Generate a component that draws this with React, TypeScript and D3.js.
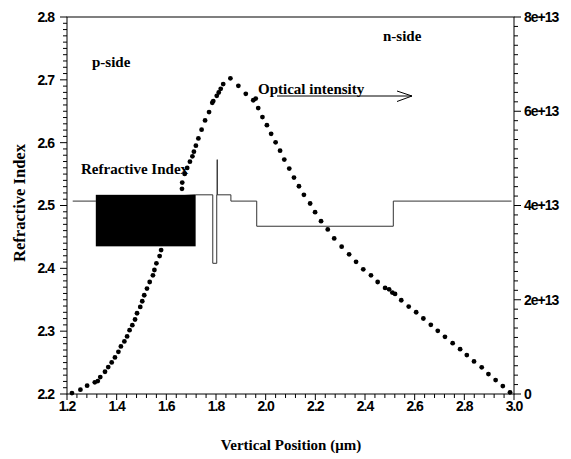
import React, { useEffect, useRef } from "react";
import * as d3 from "d3";

// optical intensity (right axis)
const dotPos = [
  1.22, 1.254, 1.281, 1.312, 1.324, 1.334, 1.353, 1.366, 1.38, 1.393, 1.407, 1.417, 1.431, 1.442,
  1.452, 1.463, 1.474, 1.482, 1.495, 1.503, 1.511, 1.522, 1.533, 1.546, 1.552, 1.56, 1.573, 1.579,
  1.663, 1.664, 1.674, 1.684, 1.695, 1.705, 1.711, 1.719, 1.729, 1.742, 1.756, 1.772, 1.785, 1.789,
  1.803, 1.811, 1.819, 1.829, 1.858, 1.89, 1.92, 1.95, 1.96, 1.97, 1.987, 2.005, 2.022, 2.04, 2.058,
  2.075, 2.095, 2.114, 2.134, 2.154, 2.179, 2.199, 2.223, 2.25, 2.276, 2.306, 2.336, 2.364, 2.393,
  2.424, 2.451, 2.481, 2.497, 2.51, 2.521, 2.546, 2.576, 2.606, 2.635, 2.665, 2.693, 2.722, 2.753,
  2.783, 2.81, 2.839, 2.87, 2.897, 2.926, 2.955, 2.984,
];
const dotIntensity = [
  0.02, 0.091, 0.176, 0.248, 0.275, 0.36, 0.472, 0.571, 0.671, 0.777, 0.895, 1.009, 1.115, 1.221,
  1.354, 1.46, 1.581, 1.714, 1.848, 1.968, 2.095, 2.237, 2.377, 2.518, 2.631, 2.772, 2.927, 3.054,
  4.353, 4.487, 4.671, 4.798, 4.931, 5.043, 5.143, 5.27, 5.424, 5.608, 5.805, 5.983, 6.18, 6.216,
  6.328, 6.398, 6.476, 6.576, 6.698, 6.54, 6.37, 6.233, 6.269, 6.068, 5.877, 5.704, 5.52, 5.34, 5.164,
  4.974, 4.783, 4.593, 4.409, 4.226, 4.042, 3.858, 3.668, 3.492, 3.302, 3.126, 2.963, 2.804, 2.646,
  2.518, 2.377, 2.25, 2.222, 2.152, 2.123, 1.989, 1.856, 1.735, 1.602, 1.467, 1.34, 1.213, 1.079,
  0.952, 0.825, 0.692, 0.565, 0.423, 0.296, 0.169, 0.036,
].map((v) => v * 1e13);

// refractive index profile (left axis), vertices of the step line
const profilePos = [
  1.223, 1.316, 1.718, 1.787, 1.787, 1.803, 1.803, 1.805, 1.805, 1.805, 1.86, 1.86, 1.964, 1.964,
  2.514, 2.514, 2.99,
];
const profileIndex = [
  2.507, 2.507, 2.517, 2.517, 2.408, 2.408, 2.517, 2.517, 2.573, 2.517, 2.517, 2.507, 2.507, 2.467,
  2.467, 2.507, 2.507,
];

// superlattice block (drawn solid)
const slPos = [1.316, 1.718];
const slIndex = [2.435, 2.517];

const xTicks = [1.2, 1.4, 1.6, 1.8, 2.0, 2.2, 2.4, 2.6, 2.8, 3.0];
const leftTicks = [2.2, 2.3, 2.4, 2.5, 2.6, 2.7, 2.8];
const rightTicks = [0, 2e13, 4e13, 6e13, 8e13];
const rightLabels = ["0", "2e+13", "4e+13", "6e+13", "8e+13"];

const W = 571;
const H = 459;
const serif = "'Liberation Serif', 'Times New Roman', serif";
const sans = "'Liberation Sans', Arial, sans-serif";

const App = () => {
  const svgRef = useRef(null);

  useEffect(() => {
    const svg = d3.select(svgRef.current);
    svg.selectAll("*").remove();

    const x = d3.scaleLinear().domain([1.2, 3.0]).range([67, 514]);
    const yL = d3.scaleLinear().domain([2.2, 2.8]).range([394, 17]);
    const yR = d3.scaleLinear().domain([0, 8e13]).range([394, 17]);

    // optical intensity dots
    svg
      .append("g")
      .selectAll("circle")
      .data(dotPos)
      .enter()
      .append("circle")
      .attr("cx", (d) => x(d))
      .attr("cy", (d, i) => yR(dotIntensity[i]))
      .attr("r", 2.4)
      .attr("fill", "#000");

    // refractive index line
    const line = d3
      .line()
      .x((d) => x(d[0]))
      .y((d) => yL(d[1]));
    svg
      .append("path")
      .attr("d", line(profilePos.map((p, i) => [p, profileIndex[i]])))
      .attr("fill", "none")
      .attr("stroke", "#333")
      .attr("stroke-width", 1);

    svg
      .append("rect")
      .attr("x", x(slPos[0]))
      .attr("y", yL(slIndex[1]))
      .attr("width", x(slPos[1]) - x(slPos[0]))
      .attr("height", yL(slIndex[0]) - yL(slIndex[1]))
      .attr("fill", "#000");

    // frame
    svg
      .append("rect")
      .attr("x", 67)
      .attr("y", 17)
      .attr("width", 447)
      .attr("height", 377)
      .attr("fill", "none")
      .attr("stroke", "#000")
      .attr("stroke-width", 1);

    const ticks = svg.append("g").attr("stroke", "#000").attr("stroke-width", 1);
    // bottom ticks
    d3.range(1.2, 3.001, 0.04).forEach((v) => {
      const major = xTicks.some((t) => Math.abs(t - v) < 1e-6);
      ticks
        .append("line")
        .attr("x1", x(v))
        .attr("x2", x(v))
        .attr("y1", 394)
        .attr("y2", 394 + (major ? 6 : 4));
    });
    // left ticks
    d3.range(2.2, 2.8001, 0.01).forEach((v) => {
      const major = leftTicks.some((t) => Math.abs(t - v) < 1e-6);
      ticks
        .append("line")
        .attr("x1", 67)
        .attr("x2", 67 - (major ? 7 : 4))
        .attr("y1", yL(v))
        .attr("y2", yL(v));
    });
    // right ticks
    d3.range(0, 8.0001e13, 0.2e13).forEach((v) => {
      const major = rightTicks.some((t) => Math.abs(t - v) < 1e9);
      ticks
        .append("line")
        .attr("x1", 514)
        .attr("x2", 514 + (major ? 7 : 4))
        .attr("y1", yR(v))
        .attr("y2", yR(v));
    });

    const lab = svg
      .append("g")
      .attr("font-family", sans)
      .attr("font-weight", "bold")
      .attr("font-size", 14)
      .attr("letter-spacing", -1)
      .attr("fill", "#000");
    xTicks.forEach((t) => {
      lab
        .append("text")
        .attr("x", x(t))
        .attr("y", 411)
        .attr("text-anchor", "middle")
        .text(t.toFixed(1));
    });
    leftTicks.forEach((t) => {
      lab
        .append("text")
        .attr("x", 54)
        .attr("y", yL(t))
        .attr("dy", "0.35em")
        .attr("text-anchor", "end")
        .text(t.toFixed(1));
    });
    rightTicks.forEach((t, i) => {
      lab
        .append("text")
        .attr("x", 524)
        .attr("y", yR(t))
        .attr("dy", "0.35em")
        .text(rightLabels[i]);
    });

    const txt = svg
      .append("g")
      .attr("font-family", serif)
      .attr("font-weight", "bold")
      .attr("font-size", 15)
      .attr("fill", "#000");
    txt.append("text").attr("x", 92).attr("y", 67).text("p-side");
    txt.append("text").attr("x", 383).attr("y", 41).text("n-side");
    txt.append("text").attr("x", 81).attr("y", 174).text("Refractive Index");
    txt.append("text").attr("x", 258).attr("y", 94).text("Optical intensity");
    txt
      .append("text")
      .attr("x", 291)
      .attr("y", 450)
      .attr("text-anchor", "middle")
      .text("Vertical Position (μm)");
    txt
      .append("text")
      .attr("transform", "translate(25,203) rotate(-90)")
      .attr("text-anchor", "middle")
      .attr("font-size", 16.5)
      .text("Refractive Index");

    // arrow
    const arrow = svg.append("g").attr("stroke", "#000").attr("stroke-width", 1).attr("fill", "none");
    arrow.append("line").attr("x1", 277).attr("x2", 412).attr("y1", 96).attr("y2", 96);
    arrow.append("path").attr("d", "M397,91 L412,96 L397,101.5");
  }, []);

  return (
    <svg
      ref={svgRef}
      width={W}
      height={H}
      style={{ position: "absolute", left: 0, top: 0, background: "#fff" }}
    ></svg>
  );
};

export default App;
